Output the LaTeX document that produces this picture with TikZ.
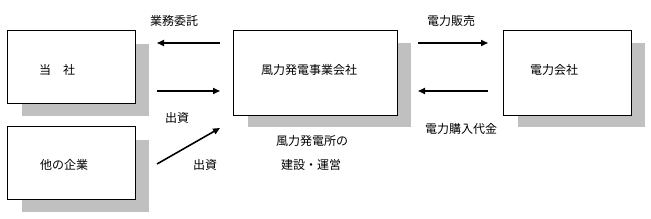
\documentclass[tikz,border=0pt]{standalone}
\usepackage{fontspec}
\setmainfont{Noto Sans CJK JP}
\usetikzlibrary{arrows.meta}
\definecolor{shade}{HTML}{C0C0C0}
\begin{document}
\begin{tikzpicture}[x=1pt,y=-1pt,
  box/.style={draw=black,line width=1pt,fill=white},
  shd/.style={fill=shade,draw=none},
  arr/.style={line width=1.6pt,-{Triangle[length=7pt,width=6pt]}},
  lbl/.style={font=\fontsize{12}{14}\selectfont,inner sep=0pt}]
\useasboundingbox (0,0) rectangle (651,219);
% shadows
\fill[shd] (22,44) rectangle (149,116);
\fill[shd] (22,140) rectangle (149,212);
\fill[shd] (248,43) rectangle (411,127);
\fill[shd] (518,43) rectangle (645,127);
% boxes
\draw[box] (7,31) rectangle (135,104);
\draw[box] (7,127) rectangle (135,200);
\draw[box] (233,31) rectangle (397,116);
\draw[box] (503,31) rectangle (631,116);
% texts
\node[lbl] (tosha) at (57,70) {当\hspace{1em}社};
\node[lbl] (tano) at (64,165) {他の企業};
\node[lbl] (fu) at (309,70) {風力発電事業会社};
\node[lbl] (den) at (554,70) {電力会社};
% arrow coordinates
\coordinate (a1s) at (220,43); \coordinate (a1e) at (157,43);
\coordinate (a2s) at (157,91); \coordinate (a2e) at (220,91);
\coordinate (a3s) at (157,164); \coordinate (a3e) at (220,128);
\coordinate (a4s) at (418,43); \coordinate (a4e) at (488,43);
\coordinate (a5s) at (488,91); \coordinate (a5e) at (418,91);
\draw[arr] (a1s) -- (a1e);
\draw[arr] (a2s) -- (a2e);
\draw[arr] (a3s) -- (a3e);
\draw[arr] (a4s) -- (a4e);
\draw[arr] (a5s) -- (a5e);
% labels
\node[lbl] (l1) at (174,21) {業務委託};
\node[lbl] (l2) at (177,118) {出資};
\node[lbl] (l3) at (205,165) {出資};
\node[lbl] (l4) at (451,21) {電力販売};
\node[lbl] (l5) at (461,129) {電力購入代金};
\node[lbl] (l6) at (312,141) {風力発電所の};
\node[lbl] (l7) at (311,165) {建設・運営};
\end{tikzpicture}
\end{document}
